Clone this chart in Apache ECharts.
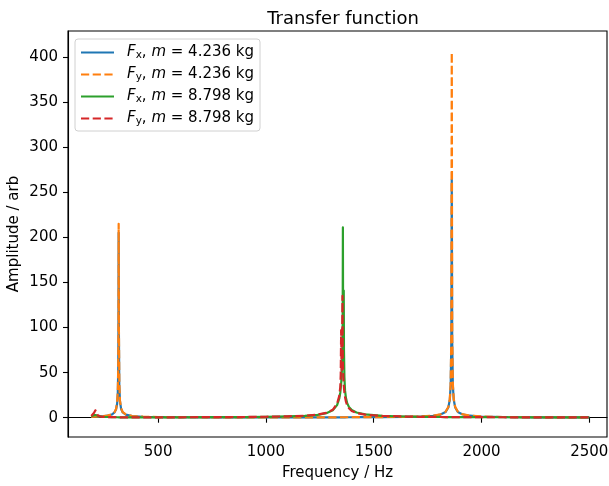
<!DOCTYPE html>
<html>
<head>
<meta charset="utf-8">
<script src="https://cdn.jsdelivr.net/npm/echarts@6/dist/echarts.min.js"></script>
<style>
  html, body { margin: 0; padding: 0; background: #fff; }
  #chart { width: 609px; height: 486px; }
</style>
</head>
<body>
<div id="chart"></div>
<script>
// Frequency grid (Hz), shared by all four curves
const freq = [
  190, 198, 203, 206, 209, 213, 220, 230, 245, 265,
  285, 298, 305, 310, 313, 315, 316, 317, 318, 320,
  323, 328, 336, 350, 380, 430, 500, 600, 750, 900,
  1000, 1100, 1180, 1240, 1280, 1310, 1330, 1340, 1345, 1347,
  1349, 1351, 1353, 1355, 1356, 1357, 1358, 1359, 1361, 1362,
  1364, 1367, 1371, 1377, 1385, 1398, 1420, 1460, 1540, 1640,
  1720, 1775, 1810, 1833, 1846, 1853, 1857, 1860, 1862, 1864,
  1867, 1871, 1878, 1890, 1910, 1945, 2000, 2100, 2250, 2400,
  2500
];

// F_x, m = 4.236 kg
const fxLight = [
  0.95, 1.0, 1.06, 1.09, 1.12, 1.16, 1.23, 1.36, 1.63, 2.2,
  3.5, 5.9, 9.3, 15.8, 27.5, 53, 97, 205, 97, 36,
  18.3, 10, 5.8, 3.4, 1.8, 1.05, 0.7, 0.53, 0.41, 0.38,
  0.37, 0.38, 0.39, 0.41, 0.42, 0.44, 0.45, 0.45, 0.46, 0.46,
  0.46, 0.46, 0.46, 0.47, 0.47, 0.47, 0.47, 0.47, 0.47, 0.47,
  0.47, 0.47, 0.48, 0.48, 0.49, 0.5, 0.53, 0.57, 0.68, 0.9,
  1.35, 2.15, 3.5, 6.2, 11.3, 20, 36, 85, 264, 85,
  36, 20, 11.3, 6.4, 3.8, 2.2, 1.3, 0.76, 0.47, 0.34,
  0.29
];

// F_y, m = 4.236 kg
const fyLight = [
  1.0, 1.05, 1.1, 1.13, 1.17, 1.2, 1.28, 1.42, 1.7, 2.3,
  3.7, 6.2, 9.7, 16.5, 28.7, 55.5, 101, 215, 101, 38,
  19.2, 10.5, 6.1, 3.6, 1.9, 1.1, 0.74, 0.56, 0.43, 0.4,
  0.39, 0.4, 0.41, 0.43, 0.44, 0.46, 0.47, 0.47, 0.48, 0.48,
  0.48, 0.48, 0.48, 0.49, 0.49, 0.49, 0.49, 0.49, 0.49, 0.49,
  0.49, 0.49, 0.5, 0.5, 0.51, 0.52, 0.55, 0.6, 0.71, 0.94,
  1.42, 2.27, 3.7, 6.6, 11.9, 21, 38, 93, 405, 93,
  38, 21, 11.9, 6.8, 4.0, 2.3, 1.38, 0.8, 0.5, 0.36,
  0.3
];

// F_x, m = 8.798 kg
const fxHeavy = [
  1.5, 2.2, 2.8, 3.1, 3.2, 2.8, 2.0, 1.4, 1.0, 0.75,
  0.6, 0.55, 0.5, 0.5, 0.48, 0.48, 0.48, 0.48, 0.48, 0.47,
  0.47, 0.46, 0.45, 0.44, 0.42, 0.41, 0.42, 0.45, 0.55, 0.72,
  1.0, 1.4, 2.1, 3.2, 5.0, 8.2, 14, 21, 28, 33,
  38, 45, 56, 78, 105, 211, 105, 80, 141, 75,
  45, 30, 22, 16, 12, 8.5, 5.8, 3.7, 2.1, 1.35,
  1.0, 0.85, 0.77, 0.73, 0.71, 0.7, 0.7, 0.7, 0.7, 0.69,
  0.69, 0.68, 0.67, 0.66, 0.63, 0.6, 0.55, 0.48, 0.4, 0.35,
  0.32
];

// F_y, m = 8.798 kg
const fyHeavy = [
  1.8, 3.6, 5.4, 7.0, 8.2, 5.2, 2.6, 1.5, 1.0, 0.75,
  0.6, 0.55, 0.5, 0.5, 0.48, 0.48, 0.48, 0.48, 0.48, 0.47,
  0.47, 0.46, 0.45, 0.44, 0.42, 0.41, 0.43, 0.47, 0.58, 0.76,
  1.05, 1.5, 2.2, 3.4, 5.3, 8.8, 15.5, 24, 34, 48,
  97, 50, 62, 135, 80, 60, 52, 45, 36, 33,
  28, 23, 18, 13.5, 10.5, 7.5, 5.2, 3.4, 2.0, 1.3,
  1.0, 0.85, 0.77, 0.73, 0.71, 0.7, 0.7, 0.7, 0.7, 0.69,
  0.69, 0.68, 0.67, 0.66, 0.63, 0.6, 0.55, 0.48, 0.4, 0.35,
  0.32
];

const xTicks = [500, 1000, 1500, 2000, 2500];
const yTicks = [0, 50, 100, 150, 200, 250, 300, 350, 400];

const seriesNames = ['Fx, m = 4.236 kg', 'Fy, m = 4.236 kg', 'Fx, m = 8.798 kg', 'Fy, m = 8.798 kg'];
const seriesValues = [fxLight, fyLight, fxHeavy, fyHeavy];
const seriesColors = ['#1f77b4', '#ff7f0e', '#2ca02c', '#d62728'];
const seriesDashed = [false, true, false, true];

const FONT = 'DejaVu Sans';
const FS = 15;
const LW = 2.2;

function legendLabel(name) {
  const comp = name.charAt(1);
  const mass = name.split('= ')[1];
  return '{sp|}{i|F}{sub|' + comp + '}{t|, }{i|m}{t| = ' + mass + '}';
}

const chart = echarts.init(document.getElementById('chart'), null, { renderer: 'canvas' });

chart.setOption({
  animation: false,
  backgroundColor: '#ffffff',
  title: {
    text: 'Transfer function',
    left: 338,
    textAlign: 'center',
    top: 5,
    textStyle: { fontFamily: FONT, fontSize: 18, fontWeight: 'normal', color: '#000' }
  },
  grid: {
    left: 68, right: 2, top: 31, bottom: 49,
    show: true, borderColor: '#000', borderWidth: 1.1,
    containLabel: false,
    outerBoundsMode: 'none'
  },
  legend: {
    orient: 'vertical',
    left: 75,
    top: 39,
    padding: [5, 6, 4, 5],
    itemGap: 5,
    itemWidth: 33,
    itemHeight: 14,
    backgroundColor: 'rgba(255,255,255,0.8)',
    borderColor: '#d0d0d0',
    borderWidth: 1,
    borderRadius: 3,
    data: seriesNames,
    formatter: legendLabel,
    itemStyle: { opacity: 0 },
    textStyle: {
      fontFamily: FONT, fontSize: FS, color: '#000',
      rich: {
        sp: { width: 8 },
        i: { fontFamily: FONT, fontStyle: 'italic', fontSize: FS, color: '#000', lineHeight: 17 },
        sub: { fontFamily: FONT, fontSize: 10.5, color: '#000', verticalAlign: 'bottom', padding: [6, 0, 0, 0], lineHeight: 17 },
        t: { fontFamily: FONT, fontSize: FS, color: '#000', lineHeight: 17 }
      }
    }
  },
  xAxis: {
    type: 'value',
    min: 82,
    max: 2582,
    name: 'Frequency / Hz',
    nameLocation: 'middle',
    nameGap: 29,
    nameMoveOverlap: false,
    nameTextStyle: { fontFamily: FONT, fontSize: FS, color: '#000' },
    axisLine: { show: true, lineStyle: { color: '#000', width: 1.1 } },
    axisTick: { show: true, inside: false, length: 5, customValues: xTicks, lineStyle: { color: '#000', width: 1.1 } },
    axisLabel: {
      customValues: xTicks, margin: 8, fontFamily: FONT, fontSize: FS, color: '#000',
      formatter: v => String(v)
    },
    splitLine: { show: false }
  },
  yAxis: {
    type: 'value',
    min: -21.4,
    max: 428.8,
    name: 'Amplitude / arb',
    nameLocation: 'middle',
    nameGap: 46,
    nameMoveOverlap: false,
    nameTextStyle: { fontFamily: FONT, fontSize: FS, color: '#000' },
    axisLine: { show: true, lineStyle: { color: '#000', width: 1.1 } },
    axisTick: { show: true, inside: false, length: 5, customValues: yTicks, lineStyle: { color: '#000', width: 1.1 } },
    axisLabel: {
      customValues: yTicks, margin: 10, fontFamily: FONT, fontSize: FS, color: '#000',
      formatter: v => String(v)
    },
    splitLine: { show: false }
  },
  series: seriesNames.map((name, k) => ({
    name: name,
    type: 'line',
    symbol: 'none',
    showSymbol: false,
    smooth: false,
    sampling: null,
    clip: true,
    data: freq.map((f, i) => [f, seriesValues[k][i]]),
    itemStyle: { color: seriesColors[k] },
    lineStyle: {
      color: seriesColors[k],
      width: LW,
      type: seriesDashed[k] ? [8.2, 3.5] : 'solid',
      cap: 'butt',
      join: 'round'
    },
    emphasis: { disabled: true }
  }))
});
</script>
</body>
</html>
